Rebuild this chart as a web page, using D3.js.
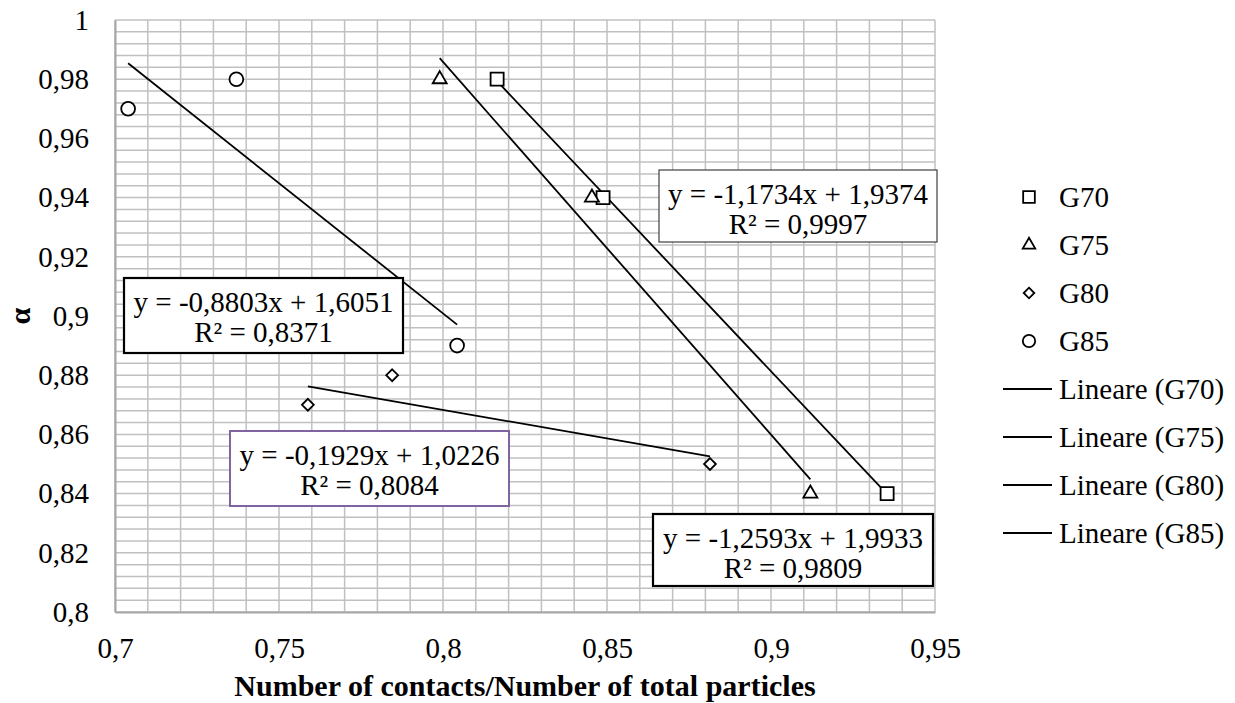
<!DOCTYPE html>
<html>
<head>
<meta charset="utf-8">
<script src="https://cdn.jsdelivr.net/npm/d3@7"></script>
<style>
  body { margin: 0; background: #fff; }
  svg, text { font-family: "Liberation Serif", "Times New Roman", serif; fill: #000; }
</style>
</head>
<body>
<div id="chart"></div>
<script>
// values
var seriesNames = ["G70", "G75", "G80", "G85"];
var g70x = [0.8165, 0.8488, 0.9354], g70y = [0.98, 0.94, 0.84];
var g75x = [0.799, 0.8454, 0.912],   g75y = [0.98, 0.94, 0.84];
var g80x = [0.7588, 0.7845, 0.8814], g80y = [0.87, 0.88, 0.85];
var g85x = [0.704, 0.737, 0.8043],   g85y = [0.97, 0.98, 0.89];
var slopes = [-1.1734, -1.2593, -0.1929, -0.8803];
var intercepts = [1.9374, 1.9933, 1.0226, 1.6051];
var eqLabels = ["y = -1,1734x + 1,9374", "y = -1,2593x + 1,9933", "y = -0,1929x + 1,0226", "y = -0,8803x + 1,6051"];
var r2Labels = ["R² = 0,9997", "R² = 0,9809", "R² = 0,8084", "R² = 0,8371"];
var xTicks = [0.7, 0.75, 0.8, 0.85, 0.9, 0.95];
var yTicks = [0.8, 0.82, 0.84, 0.86, 0.88, 0.9, 0.92, 0.94, 0.96, 0.98, 1];

var xs = [g70x, g75x, g80x, g85x];
var ys = [g70y, g75y, g80y, g85y];

// excel-like marker shapes
var diamond = { draw: function(ctx, size) {
  var r = Math.sqrt(size / 2);
  ctx.moveTo(0, -r); ctx.lineTo(r, 0); ctx.lineTo(0, r); ctx.lineTo(-r, 0); ctx.closePath();
} };
var symbols = [d3.symbolSquare, d3.symbolTriangle, diamond, d3.symbolCircle];
var symSize = [170, 85, 70, 150];

var W = 1235, H = 703;
var svg = d3.select("#chart").append("svg").attr("width", W).attr("height", H);

var x = d3.scaleLinear().domain([0.7, 0.95]).range([115, 935]);
var y = d3.scaleLinear().domain([0.8, 1]).range([612, 20]);
var fmt = function(d) { return String(+d.toFixed(2)).replace(".", ","); };

// grid
var grid = svg.append("g");
grid.selectAll(".vg").data(d3.range(0, 26)).enter().append("line")
  .attr("x1", d => x(0.7 + d * 0.01)).attr("x2", d => x(0.7 + d * 0.01))
  .attr("y1", y(0.8)).attr("y2", y(1))
  .attr("stroke", "#c0c0c0").attr("stroke-width", 1.5);
grid.selectAll(".hg").data(d3.range(0, 51)).enter().append("line")
  .attr("y1", d => y(0.8 + d * 0.004)).attr("y2", d => y(0.8 + d * 0.004))
  .attr("x1", x(0.7)).attr("x2", x(0.95))
  .attr("stroke", "#c0c0c0").attr("stroke-width", 1.5);

// axes
var xAxis = svg.append("g").attr("transform", "translate(0," + y(0.8) + ")")
  .call(d3.axisBottom(x).tickValues(xTicks).tickFormat(fmt).tickSize(0).tickPadding(25));
var yAxis = svg.append("g").attr("transform", "translate(" + x(0.7) + ",0)")
  .call(d3.axisLeft(y).tickValues(yTicks).tickFormat(fmt).tickSize(0).tickPadding(26));
[xAxis, yAxis].forEach(function(a) {
  a.attr("font-family", "Liberation Serif");
  a.select(".domain").attr("stroke", "#a6a6a6").attr("stroke-width", 2);
  a.selectAll("text").style("font-size", "29px").attr("fill", "#000");
});

// trendlines
for (var i = 0; i < 4; i++) {
  var x0 = d3.min(xs[i]), x1 = d3.max(xs[i]);
  svg.append("line")
    .attr("x1", x(x0)).attr("y1", y(slopes[i] * x0 + intercepts[i]))
    .attr("x2", x(x1)).attr("y2", y(slopes[i] * x1 + intercepts[i]))
    .attr("stroke", "#000").attr("stroke-width", 1.8);
}

// points
for (var i = 0; i < 4; i++) {
  var pts = xs[i].map((v, j) => [v, ys[i][j]]);
  svg.append("g").selectAll("path").data(pts).enter().append("path")
    .attr("d", d3.symbol().type(symbols[i]).size(symSize[i]))
    .attr("transform", d => "translate(" + x(d[0]) + "," + y(d[1]) + ")")
    .attr("fill", "#fff").attr("stroke", "#000").attr("stroke-width", 1.8);
}

// equation boxes: G70, G75, G80, G85
var boxes = [
  { x: 659, y: 170, w: 278, h: 72, stroke: "#404040", sw: 1.2 },
  { x: 653, y: 514, w: 280, h: 72, stroke: "#000", sw: 2.2 },
  { x: 230, y: 431, w: 279, h: 75, stroke: "#8064a2", sw: 2 },
  { x: 124, y: 278, w: 279, h: 75, stroke: "#000", sw: 2.2 }
];
boxes.forEach(function(b, i) {
  svg.append("rect").attr("x", b.x).attr("y", b.y).attr("width", b.w).attr("height", b.h)
    .attr("fill", "#fff").attr("stroke", b.stroke).attr("stroke-width", b.sw);
  svg.append("text").attr("x", b.x + b.w / 2).attr("y", b.y + 34).attr("text-anchor", "middle")
    .style("font-size", "29px").text(eqLabels[i]);
  svg.append("text").attr("x", b.x + b.w / 2).attr("y", b.y + 64).attr("text-anchor", "middle")
    .style("font-size", "29px").text(r2Labels[i]);
});

// legend
var leg = svg.append("g");
seriesNames.forEach(function(n, i) {
  var ly = 197 + i * 48;
  leg.append("path").attr("d", d3.symbol().type(symbols[i]).size(symSize[i] * 0.8))
    .attr("transform", "translate(1029," + ly + ")")
    .attr("fill", "#fff").attr("stroke", "#000").attr("stroke-width", 1.8);
  leg.append("text").attr("x", 1059).attr("y", ly + 10).style("font-size", "29px").text(n);
});
seriesNames.forEach(function(n, i) {
  var ly = 389 + i * 48;
  leg.append("line").attr("x1", 1003).attr("x2", 1052).attr("y1", ly).attr("y2", ly)
    .attr("stroke", "#000").attr("stroke-width", 1.8);
  leg.append("text").attr("x", 1059).attr("y", ly + 10).style("font-size", "29px").text("Lineare (" + n + ")");
});

// axis titles
svg.append("text").attr("x", 525).attr("y", 696).attr("text-anchor", "middle")
  .style("font-size", "30px").style("font-weight", "bold")
  .text("Number of contacts/Number of total particles");
svg.append("text").attr("transform", "translate(30,316) rotate(-90)").attr("text-anchor", "middle")
  .style("font-size", "30px").style("font-weight", "bold").text("α");
</script>
</body>
</html>
